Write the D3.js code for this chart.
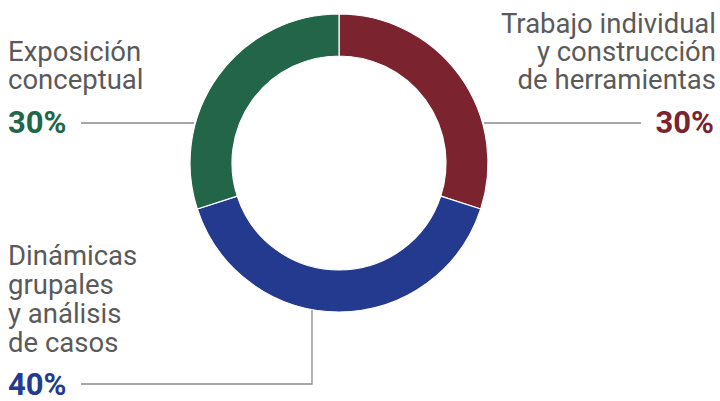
<!DOCTYPE html>
<html>
<head>
<meta charset="utf-8">
<script src="https://cdn.jsdelivr.net/npm/d3@7"></script>
<style>
  body { margin: 0; background: #fff; }
  text { font-family: Roboto, sans-serif; }
</style>
</head>
<body>
<svg id="chart" width="720" height="401"></svg>
<script>
// data
var categories = ["Trabajo individual y construcción de herramientas", "Dinámicas grupales y análisis de casos", "Exposición conceptual"];
var values = [30, 40, 30];
var colors = ["#7b232e", "#233a8e", "#226548"];
var labelLines = [
  ["Trabajo individual", "y construcción", "de herramientas"],
  ["Dinámicas", "grupales", "y análisis", "de casos"],
  ["Exposición", "conceptual"]
];
var pctLabels = ["30%", "40%", "30%"];

var svg = d3.select("#chart");
var cx = 339, cy = 163;
var outerR = 149, innerR = 107;

var pie = d3.pie().sort(null).value(d => d);
var arc = d3.arc().innerRadius(innerR).outerRadius(outerR);
var arcs = pie(values);

var g = svg.append("g").attr("transform", "translate(" + cx + "," + cy + ")");

g.selectAll("path")
  .data(arcs)
  .enter().append("path")
  .attr("d", arc)
  .attr("fill", (d, i) => colors[i])
  .attr("stroke", "#fff")
  .attr("stroke-width", 1.2);

// leader lines
var lineColor = "#8a8a8a";
svg.append("polyline")
  .attr("points", [[484, 123], [641, 123]].join(" "))
  .attr("fill", "none").attr("stroke", lineColor).attr("stroke-width", 1.3);
svg.append("polyline")
  .attr("points", [[312, 310], [312, 384], [81, 384]].join(" "))
  .attr("fill", "none").attr("stroke", lineColor).attr("stroke-width", 1.3);
svg.append("polyline")
  .attr("points", [[81, 123], [194, 123]].join(" "))
  .attr("fill", "none").attr("stroke", lineColor).attr("stroke-width", 1.3);

var textColor = "#5a5a5a";
var fs = 27.5, lh = 28;

function addLabel(lines, x, y0, anchor, step) {
  var t = svg.append("text")
    .attr("x", x).attr("y", y0)
    .attr("text-anchor", anchor)
    .attr("fill", textColor)
    .style("font-size", fs + "px");
  lines.forEach((l, i) => {
    t.append("tspan").attr("x", x).attr("y", y0 + i * step).text(l);
  });
}

addLabel(labelLines[0], 716, 33, "end", lh);
addLabel(labelLines[1], 8, 265, "start", 29);
addLabel(labelLines[2], 8, 61, "start", 27.5);

function addPct(txt, x, y, anchor, color) {
  svg.append("text")
    .attr("x", x).attr("y", y)
    .attr("text-anchor", anchor)
    .attr("fill", color)
    .style("font-size", "31px")
    .style("font-weight", "bold")
    .text(txt);
}
addPct(pctLabels[0], 714, 133, "end", colors[0]);
addPct(pctLabels[1], 8, 395, "start", colors[1]);
addPct(pctLabels[2], 8, 133, "start", colors[2]);
</script>
</body>
</html>
